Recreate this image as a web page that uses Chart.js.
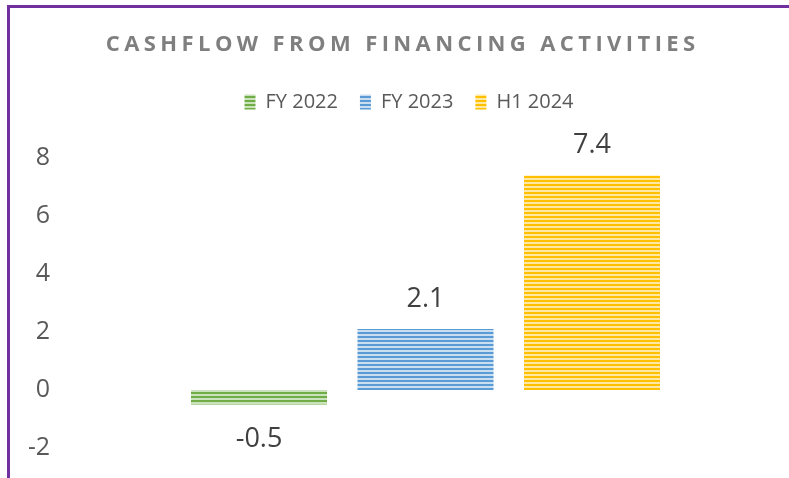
<!DOCTYPE html>
<html>
<head>
<meta charset="utf-8">
<script src="https://cdn.jsdelivr.net/npm/chart.js@4.4.1/dist/chart.umd.min.js"></script>
<style>
  html, body { margin: 0; padding: 0; background: #fff; overflow: hidden; }
  #wrap { position: relative; width: 789px; height: 478px; }
  #frame { position: absolute; left: 7px; top: 5px; width: 900px; height: 600px;
           border-top: 3px solid #7030A0; border-left: 3px solid #7030A0; }
  canvas { position: absolute; left: 0; top: 0; }
</style>
</head>
<body>
<div id="wrap">
  <div id="frame"></div>
  <canvas id="myChart" width="789" height="478"></canvas>
</div>
<script>
// data
const chartTitle = 'CASHFLOW FROM FINANCING ACTIVITIES';
const categories = ['FY 2022', 'FY 2023', 'H1 2024'];
const values = [-0.5, 2.1, 7.4];
const yTicks = [-2, 0, 2, 4, 6, 8];

// dark / light stripe colours per series
const colors = [
  ['#70AD47', '#CBE3BC'],
  ['#5B9BD5', '#CADEF1'],
  ['#FFC000', '#FFE8A3']
];

const canvas = document.getElementById('myChart');
const ctx = canvas.getContext('2d');

function stripes(dark, light) {
  const c = document.createElement('canvas');
  c.width = 4;
  c.height = 4;
  const p = c.getContext('2d');
  p.fillStyle = light;
  p.fillRect(0, 0, 4, 4);
  p.fillStyle = dark;
  p.fillRect(0, 0, 4, 2);
  return ctx.createPattern(c, 'repeat');
}

Chart.defaults.font.family = '"Open Sans", sans-serif';

// extra room under the legend
const legendGap = {
  id: 'legendGap',
  beforeInit(chart) {
    const fit = chart.legend.fit;
    chart.legend.fit = function () {
      fit.call(this);
      this.height += 36;
    };
  }
};

// spaced-out title
const spacedTitle = {
  id: 'spacedTitle',
  afterDraw(chart) {
    const c = chart.ctx;
    const ls = 4.4;
    c.save();
    c.font = 'bold 22px "Open Sans"';
    c.letterSpacing = ls + 'px';
    c.fillStyle = '#7F7F7F';
    c.textAlign = 'left';
    c.textBaseline = 'middle';
    const w = c.measureText(chartTitle).width - ls;
    c.fillText(chartTitle, 400.5 - w / 2, 45);
    c.restore();
  }
};

// value labels outside the bar ends
const valueLabels = {
  id: 'valueLabels',
  afterDatasetsDraw(chart) {
    const c = chart.ctx;
    c.save();
    c.font = '27px "Open Sans"';
    c.fillStyle = '#404040';
    c.textAlign = 'center';
    c.textBaseline = 'middle';
    chart.data.datasets.forEach((ds, i) => {
      const bar = chart.getDatasetMeta(i).data[0];
      const v = ds.data[0];
      const y = v >= 0 ? bar.y - 30 : bar.y + 35;
      c.fillText(v.toFixed(1), bar.x, y);
    });
    c.restore();
  }
};

new Chart(ctx, {
  type: 'bar',
  data: {
    labels: [''],
    datasets: categories.map((name, i) => ({
      label: name,
      data: [values[i]],
      backgroundColor: stripes(colors[i][0], colors[i][1]),
      borderWidth: 0,
      categoryPercentage: 0.687,
      barPercentage: 0.817
    }))
  },
  options: {
    responsive: false,
    animation: false,
    layout: { padding: { top: 70, left: 29, right: 0, bottom: 30 } },
    plugins: {
      title: { display: false },
      tooltip: { enabled: false },
      legend: {
        position: 'top',
        labels: {
          boxWidth: 11,
          boxHeight: 15,
          padding: 22,
          color: '#595959',
          font: { size: 20 }
        }
      }
    },
    scales: {
      x: { display: false },
      y: {
        min: yTicks[0],
        max: yTicks[yTicks.length - 1],
        afterBuildTicks: axis => { axis.ticks = yTicks.map(v => ({ value: v })); },
        afterFit: axis => { axis.width = 33; },
        grid: { display: false, drawTicks: false },
        border: { display: false },
        ticks: { padding: 12, color: '#595959', font: { size: 25 } }
      }
    }
  },
  plugins: [legendGap, spacedTitle, valueLabels]
});
</script>
</body>
</html>
